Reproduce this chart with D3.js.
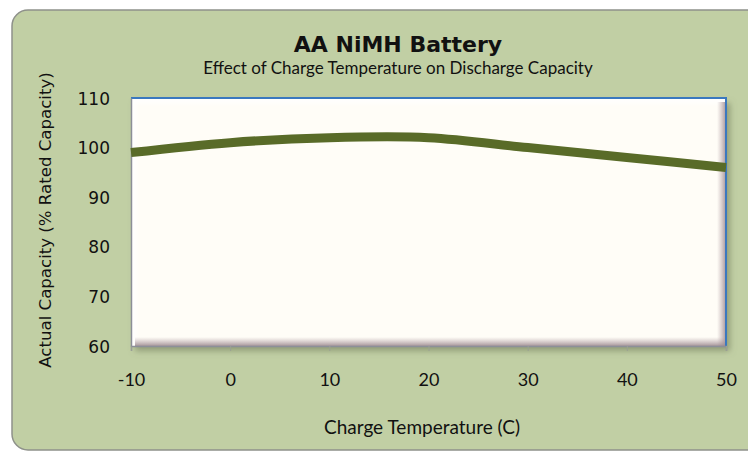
<!DOCTYPE html>
<html>
<head>
<meta charset="utf-8">
<script src="https://cdn.jsdelivr.net/npm/d3@7"></script>
<style>
  html, body { margin: 0; padding: 0; background: #ffffff; }
</style>
</head>
<body>
<div id="chart"></div>
<script>
// data
var temps = [-10, 0, 10, 20, 30, 40, 50];
var capacity = [99, 101, 102, 102, 100, 98, 96];
var xTicks = [-10, 0, 10, 20, 30, 40, 50];
var yTicks = [60, 70, 80, 90, 100, 110];

var width = 748, height = 455;
var plot = {left: 131, top: 98, right: 726, bottom: 346};

var svg = d3.select('#chart').append('svg')
    .attr('width', width)
    .attr('height', height);

var defs = svg.append('defs');
var shadow = defs.append('filter').attr('id', 'shadow')
    .attr('x', '-5%').attr('y', '-5%').attr('width', '115%').attr('height', '120%');
shadow.append('feDropShadow')
    .attr('dx', 4).attr('dy', 5).attr('stdDeviation', 3)
    .attr('flood-color', '#6f7a5c').attr('flood-opacity', 0.6);

function grad(id, x1, y1, x2, y2, stops) {
    var g = defs.append('linearGradient').attr('id', id)
        .attr('x1', x1).attr('y1', y1).attr('x2', x2).attr('y2', y2);
    stops.forEach(function(s) {
        g.append('stop').attr('offset', s[0]).attr('stop-color', s[1]).attr('stop-opacity', s[2]);
    });
}
grad('bevTop', 0, 0, 0, 1, [[0, '#ffffff', 1], [1, '#ffffff', 0]]);
grad('bevLeft', 0, 0, 1, 0, [[0, '#ffffff', 1], [1, '#ffffff', 0]]);
grad('bevRight', 0, 0, 1, 0, [[0, '#b8a4a8', 0], [1, '#9c8a90', 0.9]]);
grad('bevBottom', 0, 0, 0, 1, [[0, '#b8a4a8', 0], [1, '#9c8a90', 0.9]]);

// card background
svg.append('rect')
    .attr('x', 12).attr('y', 10)
    .attr('width', 760).attr('height', 440)
    .attr('rx', 16).attr('ry', 16)
    .attr('fill', '#c1cfa4')
    .attr('stroke', '#8e918a')
    .attr('stroke-width', 1.5);

var x = d3.scaleLinear().domain([-10, 50]).range([plot.left, plot.right]);
var y = d3.scaleLinear().domain([60, 110]).range([plot.bottom, plot.top]);

var pw = plot.right - plot.left, ph = plot.bottom - plot.top;

// plot area with bevel look
svg.append('rect')
    .attr('x', plot.left).attr('y', plot.top)
    .attr('width', pw).attr('height', ph)
    .attr('fill', '#fffdf7')
    .attr('filter', 'url(#shadow)');
var bev = 9;
svg.append('rect').attr('x', plot.left).attr('y', plot.top)
    .attr('width', pw).attr('height', bev).attr('fill', 'url(#bevTop)');
svg.append('rect').attr('x', plot.left).attr('y', plot.top)
    .attr('width', bev).attr('height', ph).attr('fill', 'url(#bevLeft)');
svg.append('rect').attr('x', plot.right - bev).attr('y', plot.top + 4)
    .attr('width', bev).attr('height', ph - 4).attr('fill', 'url(#bevRight)');
svg.append('rect').attr('x', plot.left + 4).attr('y', plot.bottom - bev)
    .attr('width', pw - 4).attr('height', bev).attr('fill', 'url(#bevBottom)');

// blue top and right border
svg.append('path')
    .attr('d', 'M' + plot.left + ',' + plot.top + 'H' + plot.right + 'V' + plot.bottom)
    .attr('fill', 'none')
    .attr('stroke', '#3a78bf')
    .attr('stroke-width', 2);

// axes
var xAxis = svg.append('g')
    .attr('transform', 'translate(0,' + plot.bottom + ')')
    .call(d3.axisBottom(x).tickValues(xTicks).tickSize(5).tickPadding(22)
        .tickFormat(function(d) { return String(d); }));
var yAxis = svg.append('g')
    .attr('transform', 'translate(' + plot.left + ',0)')
    .call(d3.axisLeft(y).tickValues(yTicks).tickSize(0).tickPadding(21).tickFormat(d3.format('d')));

[xAxis, yAxis].forEach(function(a) {
    a.select('.domain').attr('stroke', '#8c8f98').attr('stroke-width', 1.5);
    a.selectAll('.tick line').attr('stroke', '#9aa093');
    a.selectAll('.tick text').attr('fill', '#111');
});
xAxis.selectAll('.tick text').attr('font-family', 'Lato, "Open Sans", sans-serif').attr('font-size', 18);
yAxis.selectAll('.tick text').attr('font-family', '"DejaVu Sans", Verdana, sans-serif')
    .attr('font-size', 17).attr('dy', '0.36em');

// data line
var line = d3.line()
    .x(function(d, i) { return x(temps[i]); })
    .y(function(d) { return y(d); })
    .curve(d3.curveCatmullRom.alpha(0.5));

svg.append('path')
    .datum(capacity)
    .attr('d', line)
    .attr('fill', 'none')
    .attr('stroke', '#596b28')
    .attr('stroke-width', 9);

// titles
svg.append('text')
    .attr('x', 398).attr('y', 52)
    .attr('text-anchor', 'middle')
    .attr('font-family', '"DejaVu Sans", Verdana, sans-serif')
    .attr('font-weight', 'bold')
    .attr('font-size', 22)
    .attr('fill', '#111')
    .text('AA NiMH Battery');
svg.append('text')
    .attr('x', 398).attr('y', 74)
    .attr('text-anchor', 'middle')
    .attr('font-family', 'Lato, "Open Sans", sans-serif')
    .attr('font-size', 17)
    .attr('fill', '#111')
    .text('Effect of Charge Temperature on Discharge Capacity');
svg.append('text')
    .attr('x', 422).attr('y', 434)
    .attr('text-anchor', 'middle')
    .attr('font-family', 'Lato, "Open Sans", sans-serif')
    .attr('font-size', 19)
    .attr('fill', '#111')
    .text('Charge Temperature (C)');
svg.append('text')
    .attr('transform', 'translate(51,220) rotate(-90)')
    .attr('text-anchor', 'middle')
    .attr('font-family', '"DejaVu Sans", Verdana, sans-serif')
    .attr('font-size', 16.6)
    .attr('fill', '#111')
    .text('Actual Capacity  (% Rated  Capacity)');
</script>
</body>
</html>
